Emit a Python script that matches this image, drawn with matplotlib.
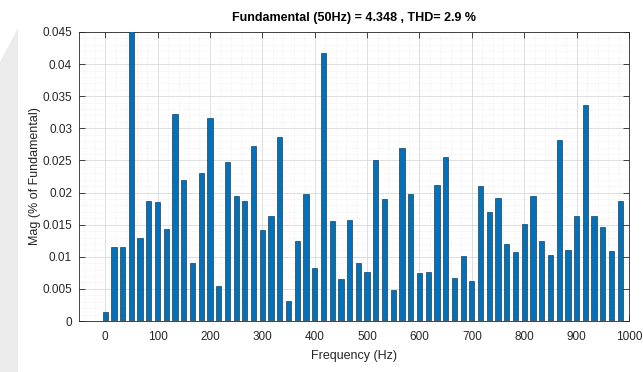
import matplotlib
matplotlib.use("Agg")
import matplotlib.pyplot as plt
from matplotlib.patches import Polygon
from matplotlib.ticker import MultipleLocator, AutoMinorLocator

# Harmonic spectrum (bin centres in Hz) and magnitudes (% of fundamental)
freqs = [0, 16.67, 33.33, 50, 66.67, 83.33, 100, 116.67, 133.33, 150,
         166.67, 183.33, 200, 216.67, 233.33, 250, 266.67, 283.33, 300, 316.67,
         333.33, 350, 366.67, 383.33, 400, 416.67, 433.33, 450, 466.67, 483.33,
         500, 516.67, 533.33, 550, 566.67, 583.33, 600, 616.67, 633.33, 650,
         666.67, 683.33, 700, 716.67, 733.33, 750, 766.67, 783.33, 800, 816.67,
         833.33, 850, 866.67, 883.33, 900, 916.67, 933.33, 950, 966.67, 983.33]
mags = [0.0014, 0.0116, 0.0116, 0.0462, 0.0130, 0.0187, 0.0185, 0.0143, 0.0322, 0.0220,
        0.0091, 0.0231, 0.0316, 0.0054, 0.0248, 0.0195, 0.0187, 0.0273, 0.0141, 0.0164,
        0.0286, 0.0031, 0.0124, 0.0198, 0.0083, 0.0417, 0.0155, 0.0066, 0.0157, 0.0091,
        0.0076, 0.0251, 0.0190, 0.0048, 0.0269, 0.0197, 0.0074, 0.0076, 0.0212, 0.0255,
        0.0067, 0.0101, 0.0063, 0.0210, 0.0169, 0.0192, 0.0120, 0.0108, 0.0151, 0.0194,
        0.0124, 0.0102, 0.0282, 0.0111, 0.0163, 0.0337, 0.0163, 0.0147, 0.0109, 0.0187]

title = "Fundamental (50Hz) = 4.348 , THD= 2.9 %"

plt.rcParams["font.family"] = ["Liberation Sans", "DejaVu Sans"]

fig = plt.figure(figsize=(6.43, 3.72), dpi=100)

# grey strip on the left edge of the screenshot
W, H = 643, 372
strip = Polygon([(0, 1 - 62 / H), (18 / W, 1 - 28 / H), (18 / W, 0), (0, 0)],
                closed=True, transform=fig.transFigure, facecolor="#ebebeb",
                edgecolor="none", zorder=0)
fig.patches.append(strip)

ax = fig.add_axes([79 / W, 1 - 321 / H, (629 - 79) / W, (321 - 32) / H])

ax.bar(freqs, mags, width=10, color="#0072BD", edgecolor="#1a1a1a",
       linewidth=0.4, zorder=3)

ax.set_xlim(-50, 1000)
ax.set_ylim(0, 0.045)
ax.xaxis.set_major_locator(MultipleLocator(100))
ax.yaxis.set_major_locator(MultipleLocator(0.005))
ax.xaxis.set_minor_locator(AutoMinorLocator(5))
ax.yaxis.set_minor_locator(AutoMinorLocator(5))
ax.yaxis.set_major_formatter(matplotlib.ticker.FuncFormatter(
    lambda v, p: "0" if v == 0 else ("%.3f" % v).rstrip("0")))

ax.grid(which="major", color="#d9d9d9", linewidth=0.6, zorder=0)
ax.grid(which="minor", color="#e6e6e6", linewidth=0.5, linestyle=":", zorder=0)
ax.set_axisbelow(True)

ax.tick_params(which="both", direction="in", top=True, right=True,
               labelsize=8.5, colors="#262626", labelcolor="#262626")
ax.tick_params(which="major", length=4, width=0.6)
ax.tick_params(axis="x", which="major", pad=7)
ax.tick_params(axis="y", which="major", pad=5)
ax.tick_params(which="minor", length=0)
for s in ax.spines.values():
    s.set_color("#262626")
    s.set_linewidth(0.6)

ax.set_title(title, fontsize=9, fontweight="bold", pad=8)
ax.set_xlabel("Frequency (Hz)", fontsize=9, color="#262626", labelpad=5)
ax.set_ylabel("Mag (% of Fundamental)", fontsize=9, color="#262626", labelpad=1)

fig.savefig("out.png", dpi=100)
